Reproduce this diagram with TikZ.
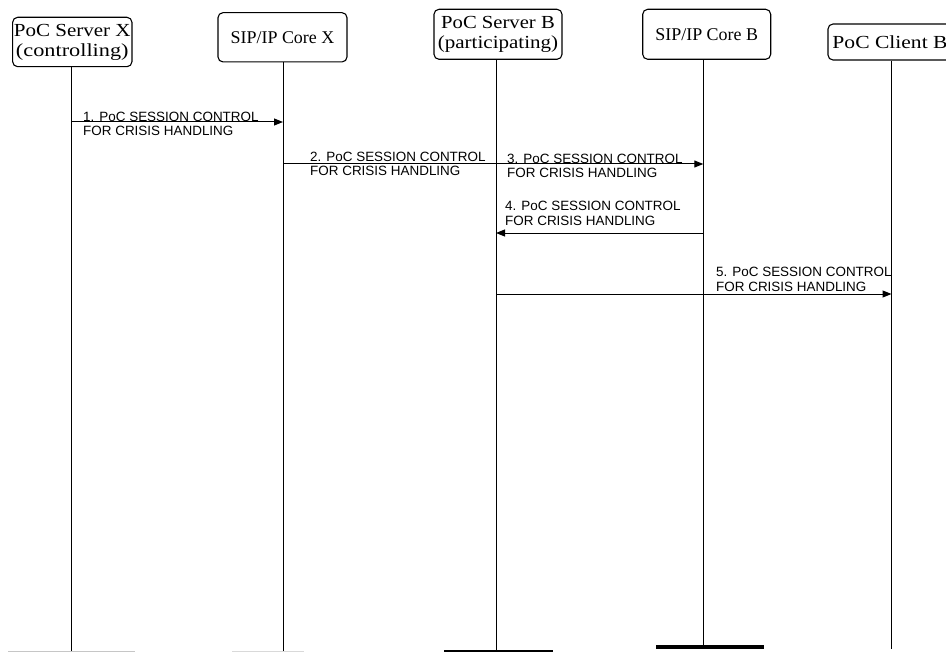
\documentclass[tikz,border=0pt]{standalone}
\usepackage{fontspec}
\setmainfont{Liberation Serif}
\newfontfamily\lblfont{Liberation Sans}
\usetikzlibrary{arrows.meta}
\newcommand{\hs}[2]{\scalebox{#1}[1]{#2}}
\begin{document}
\begin{tikzpicture}[x=1bp,y=-1bp,
  actor/.style={draw,rounded corners=5bp,inner sep=0pt,line width=1.1bp,align=center,font=\fontsize{18.5}{20}\selectfont},
  life/.style={line width=1bp},
  msg/.style={line width=1bp,-{Triangle[length=9bp,width=7bp]}},
  plainmsg/.style={line width=1bp},
  lbl/.style={anchor=base west,inner sep=0pt,align=left,font=\lblfont\fontsize{13.5}{14.5}\selectfont},
  bar/.style={line cap=butt},
]
\clip (0,0) rectangle (946,652);
% actors
\node[actor,minimum width=119.3bp,minimum height=49.4bp] (a1) at (72.3,42) {\hs{1.14}{PoC Server X}\\\hs{1.21}{(controlling)}};
\node[actor,minimum width=129bp,minimum height=49.3bp,font=\fontsize{18}{20}\selectfont] (a2) at (282.5,37.3) {SIP/IP Core X};
\node[actor,minimum width=128bp,minimum height=50bp] (a3) at (498,34.3) {\hs{1.12}{PoC Server B}\\\hs{1.14}{(participating)}};
\node[actor,minimum width=128bp,minimum height=50bp,font=\fontsize{18}{20}\selectfont] (a4) at (706.7,34.3) {SIP/IP Core B};
\node[actor,minimum width=124bp,minimum height=36bp] (a5) at (890,42) {\hs{1.17}{PoC Client B}};
% lifeline ends
\coordinate (l1) at (71,651);
\coordinate (l2) at (283,651);
\coordinate (l3) at (496,650);
\coordinate (l4) at (703.3,645);
\coordinate (l5) at (891.5,649);
\draw[life] (a1.south -| l1) -- (l1);
\draw[life] (a2.south -| l2) -- (l2);
\draw[life] (a3.south -| l3) -- (l3);
\draw[life] (a4.south -| l4) -- (l4);
\draw[life] (a5.south -| l5) -- (l5);
% bottom bars
\draw[bar,gray!45,line width=1bp] (8,651.3) -- (135,651.3);
\draw[bar,gray!30,line width=1bp] (232,651.3) -- (304,651.3);
\draw[bar,black,line width=2bp] (444,650.7) -- (553,650.7);
\draw[bar,black,line width=4bp] (656,647) -- (764,647);
% messages
\draw[msg] (l1 |- 0,122) -- (l2 |- 0,122);
\node[lbl] (m1) at (83,136) {1. PoC SESSION CONTROL\\FOR CRISIS HANDLING};
\draw[plainmsg] (l2 |- 0,164) -- (l3 |- 0,164);
\node[lbl] (m2) at (310,176) {2. PoC SESSION CONTROL\\FOR CRISIS HANDLING};
\draw[msg] (l3 |- 0,164) -- (l4 |- 0,164);
\node[lbl] (m3) at (507,178) {3. PoC SESSION CONTROL\\FOR CRISIS HANDLING};
\draw[msg] (l4 |- 0,233) -- (l3 |- 0,233);
\node[lbl] (m4) at (505,225) {4. PoC SESSION CONTROL\\FOR CRISIS HANDLING};
\draw[msg] (l3 |- 0,294) -- (l5 |- 0,294);
\node[lbl] (m5) at (716,291) {5. PoC SESSION CONTROL\\FOR CRISIS HANDLING};
\end{tikzpicture}
\end{document}
